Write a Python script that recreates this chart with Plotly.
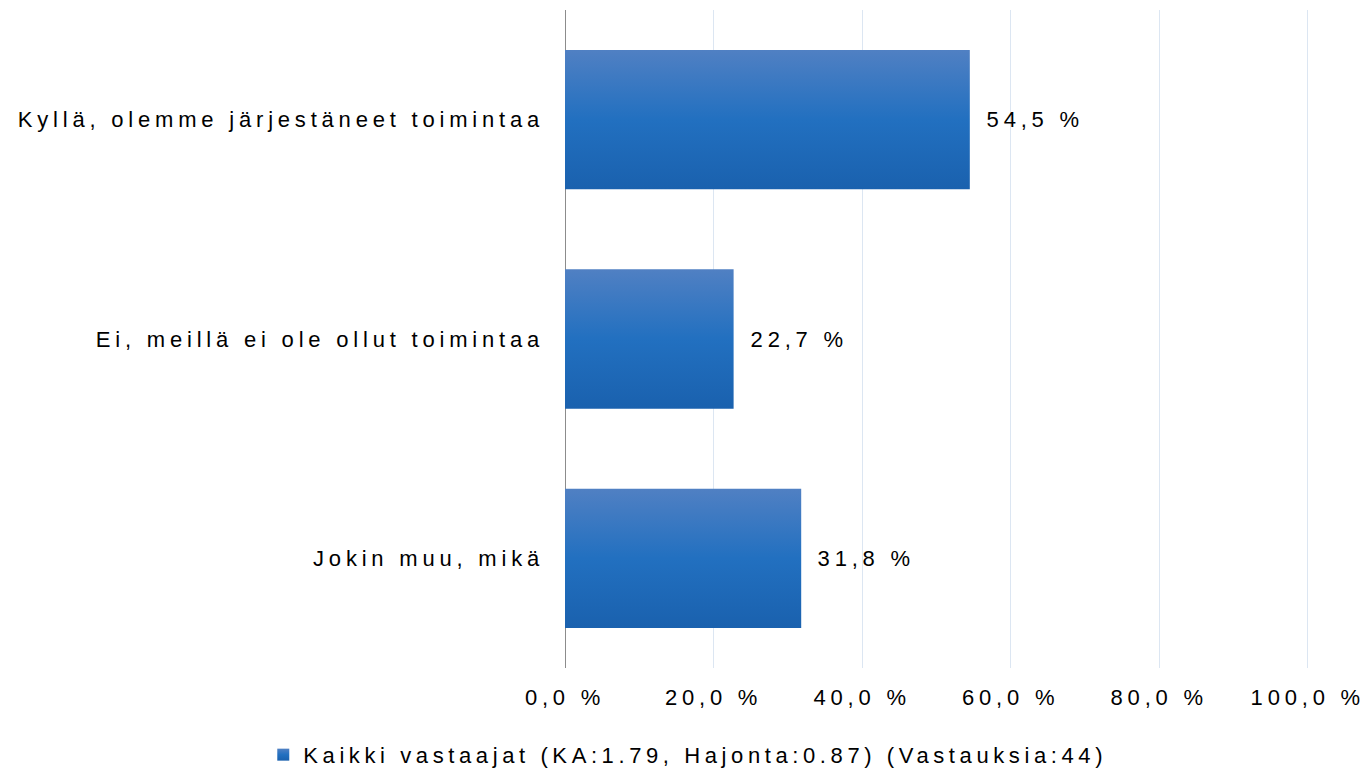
import plotly.graph_objects as go

categories = ["Kyllä, olemme järjestäneet toimintaa",
              "Ei, meillä ei ole ollut toimintaa",
              "Jokin muu, mikä"]
values = [54.5, 22.7, 31.8]
series_name = "Kaikki vastaajat (KA:1.79, Hajonta:0.87) (Vastauksia:44)"
tick_vals = [0, 20, 40, 60, 80, 100]
tick_text = [f"{v:.1f}".replace(".", ",") + " %" for v in tick_vals]

FONT = "Liberation Sans, Arial, sans-serif"
LS = 4.8  # letter spacing in px

fig = go.Figure()
fig.add_trace(go.Bar(
    y=categories, x=values, orientation="h", name=series_name,
    marker=dict(color="#2A6DBB", line=dict(width=0)),
    showlegend=True,
))

annotations = []
for c, v in zip(categories, values):
    label = f"{v:.1f}".replace(".", ",") + " %"
    annotations.append(dict(
        x=v, y=c, xref="x", yref="y", text=label,
        showarrow=False, xanchor="left", xshift=17 + (len(label) - 1) * LS / 2,
        font=dict(family=FONT, size=22, color="#000000"),
    ))

fig.update_layout(
    width=1369, height=771,
    paper_bgcolor="white", plot_bgcolor="white",
    margin=dict(l=565, r=59, t=10, b=103, autoexpand=False),
    bargap=0.365,
    font=dict(family=FONT, size=22, color="#000000"),
    xaxis=dict(range=[0, 100.3], tickvals=tick_vals, ticktext=tick_text,
               showgrid=True, gridcolor="#DCE6F2", gridwidth=1,
               zeroline=True, zerolinecolor="#8C8C8C", zerolinewidth=1,
               showline=False, ticks="", ticklabelstandoff=14,
               tickfont=dict(family=FONT, size=22, color="#000000")),
    yaxis=dict(autorange="reversed", showgrid=False, zeroline=False, showline=False,
               ticks="", ticklabelstandoff=20,
               tickfont=dict(family=FONT, size=22, color="#000000")),
    legend=dict(orientation="h", x=-0.405, xanchor="left", y=-0.132, yanchor="middle",
                font=dict(family=FONT, size=22, color="#000000"),
                bgcolor="rgba(0,0,0,0)"),
    annotations=annotations,
)

post = """
document.body.style.margin = '0';
var gd = document.getElementById('{plot_id}');
var svg = gd.querySelector('svg.main-svg');
var defs = svg.querySelector('defs');
var NS = 'http://www.w3.org/2000/svg';
var grad = document.createElementNS(NS, 'linearGradient');
grad.setAttribute('id', 'bargrad');
grad.setAttribute('x1', '0'); grad.setAttribute('y1', '0');
grad.setAttribute('x2', '0'); grad.setAttribute('y2', '1');
[['0%', '#5080C3'], ['50%', '#2270C0'], ['100%', '#1A61AE']].forEach(function(s){
  var st = document.createElementNS(NS, 'stop');
  st.setAttribute('offset', s[0]); st.setAttribute('stop-color', s[1]);
  grad.appendChild(st);
});
defs.appendChild(grad);
gd.querySelectorAll('.barlayer .point path, .legendpoints path').forEach(function(p){
  p.style.fill = 'url(#bargrad)';
});
gd.querySelectorAll('.legend .scrollbox, .legend').forEach(function(e){ e.removeAttribute('clip-path'); });
gd.querySelectorAll('text').forEach(function(t){ t.style.letterSpacing = '""" + str(LS) + """px'; });
gd.querySelectorAll('.legendtext').forEach(function(t){ t.style.letterSpacing = '4.6px'; });
"""

fig.write_html("out.html", post_script=post, config={"displayModeBar": False})
